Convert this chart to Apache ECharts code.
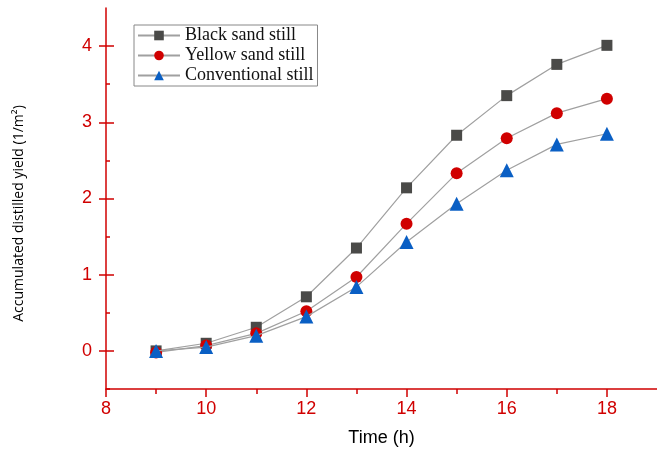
<!DOCTYPE html>
<html><head><meta charset="utf-8">
<script src="https://cdn.jsdelivr.net/npm/echarts@6/dist/echarts.min.js"></script>
<style>html,body{margin:0;padding:0;background:#fff;}#c{width:657px;height:449px;}</style>
</head><body><div id="c"></div>
<script>
const hours = [9, 10, 11, 12, 13, 14, 15, 16, 17, 18];
const blackSand = [0, 0.10, 0.31, 0.71, 1.35, 2.14, 2.83, 3.35, 3.76, 4.01];
const yellowSand = [-0.02, 0.07, 0.23, 0.52, 0.97, 1.67, 2.33, 2.79, 3.12, 3.31];
const conventional = [0, 0.05, 0.20, 0.45, 0.84, 1.43, 1.93, 2.37, 2.71, 2.85];
const xTickLabels = [8, 10, 12, 14, 16, 18];
const xMinorTicks = [9, 11, 13, 15, 17];
const yTickLabels = [0, 1, 2, 3, 4];
const yMinorTicks = [-0.5, 0.5, 1.5, 2.5, 3.5];

const red = '#d00000';
const chart = echarts.init(document.getElementById('c'));
const pair = (ys) => hours.map((h, i) => [h, ys[i]]);
const lineStyle = { color: '#a0a0a0', width: 1.2 };
chart.setOption({
  animation: false,
  grid: { left: 106, right: 0, top: 8, bottom: 60, containLabel: false, outerBoundsMode: 'none' },
  legend: {
    left: 134, top: 25, orient: 'vertical',
    itemWidth: 42, itemHeight: 12, itemGap: 1,
    padding: [1, 4, 1, 3],
    borderColor: '#888', borderWidth: 1,
    textStyle: { fontFamily: 'Liberation Serif', fontSize: 18, lineHeight: 19, color: '#111' },
    data: ['Black sand still', 'Yellow sand still', 'Conventional still']
  },
  xAxis: [{
    type: 'value', min: 8, max: 19,
    name: 'Time (h)', nameLocation: 'middle', nameGap: 40,
    nameTextStyle: { fontFamily: 'Liberation Sans', fontSize: 18, color: '#000' },
    axisLine: { onZero: false, lineStyle: { color: red, width: 1.5 } },
    axisTick: { show: true, customValues: xTickLabels, length: 8, lineStyle: { color: red, width: 1.5 } },
    axisLabel: { customValues: xTickLabels, color: red, fontFamily: 'Liberation Sans', fontSize: 18, margin: 11 },
    splitLine: { show: false }
  }, {
    type: 'value', min: 8, max: 19, position: 'bottom',
    axisLine: { show: false, onZero: false },
    axisTick: { show: true, customValues: xMinorTicks, length: 5, lineStyle: { color: red, width: 1.5 } },
    axisLabel: { show: false },
    splitLine: { show: false }
  }],
  yAxis: [{
    type: 'value', min: -0.5, max: 4.5,
    name: 'Accumulated distilled yield (1/m²)', nameLocation: 'middle', nameGap: 80,
    nameTextStyle: { fontFamily: 'Open Sans', fontSize: 14, color: '#000', padding: [0, 0, 0, -30] },
    axisLine: { show: true, onZero: false, lineStyle: { color: red, width: 1.5 } },
    axisTick: { show: true, customValues: yTickLabels, length: 7, lineStyle: { color: red, width: 1.5 } },
    axisLabel: { customValues: yTickLabels, color: red, fontFamily: 'Liberation Sans', fontSize: 18, margin: 14 },
    splitLine: { show: false }
  }, {
    type: 'value', min: -0.5, max: 4.5, position: 'left',
    axisLine: { show: false, onZero: false },
    axisTick: { show: true, inside: true, customValues: yTickLabels, length: 8, lineStyle: { color: red, width: 1.5 } },
    axisLabel: { show: false }, splitLine: { show: false }
  }, {
    type: 'value', min: -0.5, max: 4.5, position: 'left',
    axisLine: { show: false, onZero: false },
    axisTick: { show: true, inside: true, customValues: yMinorTicks, length: 4, lineStyle: { color: red, width: 1.5 } },
    axisLabel: { show: false }, splitLine: { show: false }
  }],
  series: [{
    name: 'Black sand still', type: 'line', data: pair(blackSand),
    symbol: 'rect', symbolSize: 11, lineStyle, itemStyle: { color: '#4a4a48' }, z: 3
  }, {
    name: 'Yellow sand still', type: 'line', data: pair(yellowSand),
    symbol: 'circle', symbolSize: 12, lineStyle, itemStyle: { color: '#d00000' }, z: 4
  }, {
    name: 'Conventional still', type: 'line', data: pair(conventional),
    symbol: 'triangle', symbolSize: 14, lineStyle, itemStyle: { color: '#0a5fc4' }, z: 5
  }]
});
</script></body></html>
